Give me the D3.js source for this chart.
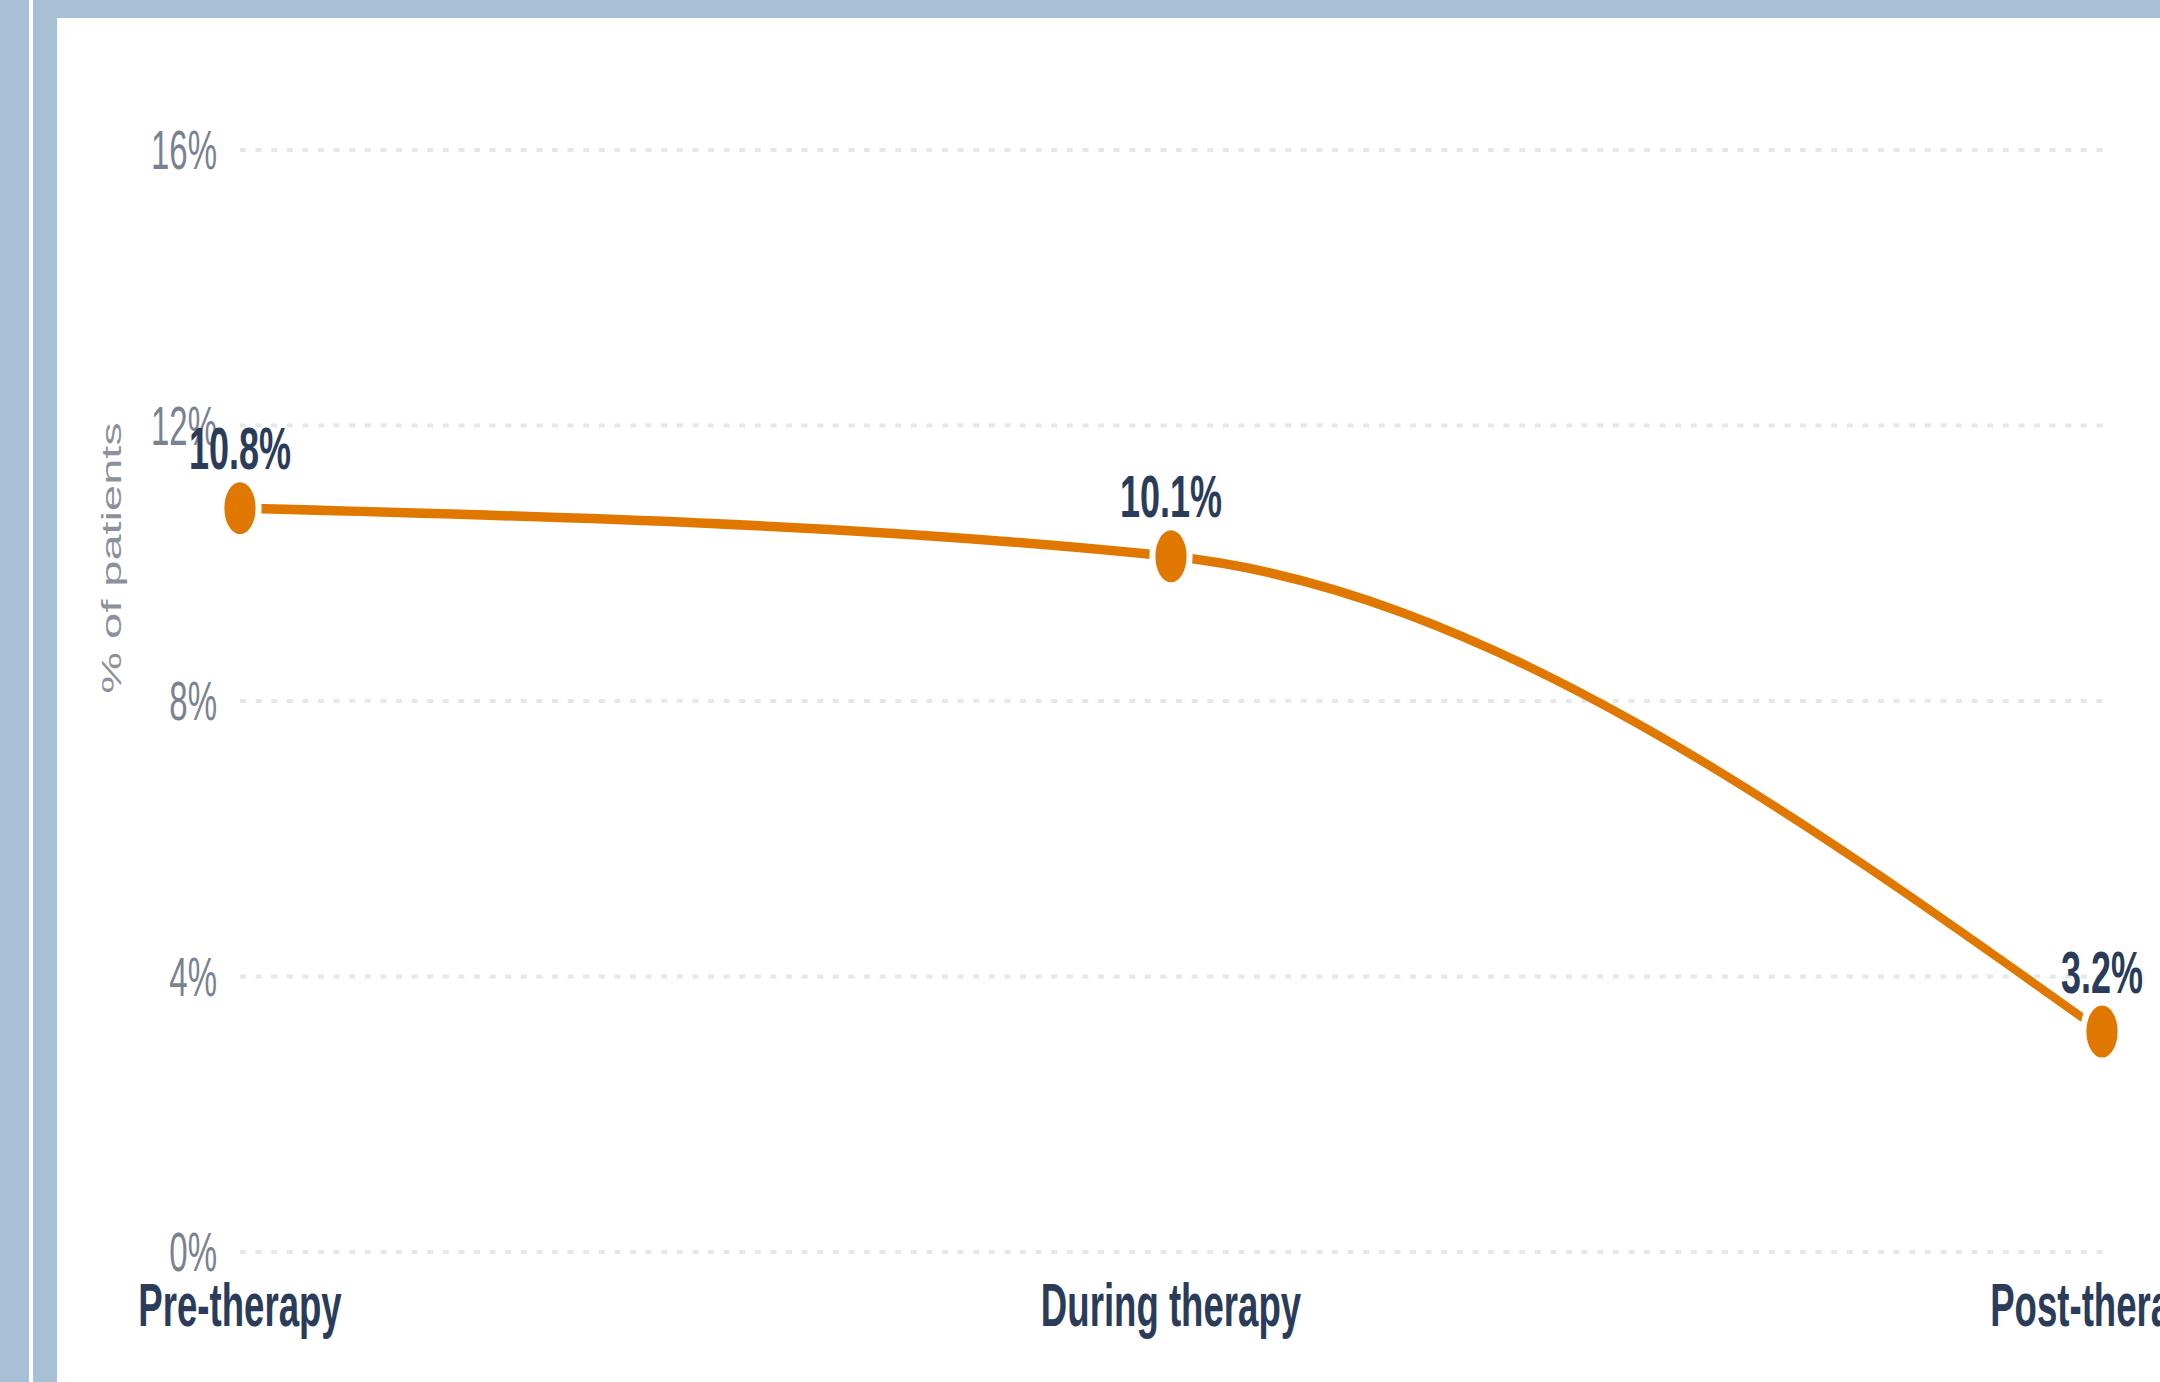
<!DOCTYPE html>
<html>
<head>
<meta charset="utf-8">
<script src="https://cdn.jsdelivr.net/npm/d3@7"></script>
<style>
  body { margin: 0; background: #a7c0d6; }
  svg { display: block; }
</style>
</head>
<body>
<div id="chart"></div>
<script>
// chart data
const stages = ["Pre-therapy", "During therapy", "Post-therapy"];
const values = [10.8, 10.1, 3.2];
const yTicks = [0, 4, 8, 12, 16];

const width = 2160, height = 1382;
// the source picture is squeezed sideways, so everything is drawn in a narrowed group
const sx = 0.6;

const svg = d3.select("#chart")
    .append("svg")
    .attr("width", width)
    .attr("height", height);

// frame: blue strips round a white panel
svg.append("rect").attr("width", width).attr("height", height).attr("fill", "#a7c0d6");
svg.append("rect").attr("x", 29).attr("y", 0).attr("width", 4).attr("height", height).attr("fill", "#ffffff");
svg.append("rect").attr("x", 57).attr("y", 18).attr("width", width - 57).attr("height", height - 18).attr("fill", "#ffffff");

const g = svg.append("g").attr("transform", `scale(${sx},1)`);

// scales (x range is in the narrowed units)
const xScale = d3.scalePoint().domain(stages).range([240 / sx, 2102 / sx]);
const yScale = d3.scaleLinear().domain([0, 16]).range([1252, 150]);

// dotted grid lines
g.selectAll(".grid")
    .data(yTicks)
    .enter()
    .append("line")
    .attr("x1", xScale.range()[0])
    .attr("x2", xScale.range()[1] + 2)
    .attr("y1", d => yScale(d))
    .attr("y2", d => yScale(d))
    .attr("stroke", "#e5e7ec")
    .attr("stroke-width", 4)
    .attr("stroke-dasharray", "10 16");

// y tick labels
g.selectAll(".ytick")
    .data(yTicks)
    .enter()
    .append("text")
    .attr("x", 217 / sx)
    .attr("y", d => yScale(d))
    .attr("dy", "0.35em")
    .attr("text-anchor", "end")
    .attr("font-family", "'Liberation Sans', Arial, sans-serif")
    .attr("font-size", 55)
    .attr("fill", "#7a8291")
    .text(d => d + "%");

// y axis title
g.append("text")
    .attr("transform", `translate(${121 / sx},558) rotate(-90)`)
    .attr("text-anchor", "middle")
    .attr("font-family", "'Liberation Sans', Arial, sans-serif")
    .attr("font-size", 47)
    .attr("fill", "#8c929c")
    .text("% of patients");

// x category labels
g.selectAll(".xlabel")
    .data(stages)
    .enter()
    .append("text")
    .attr("x", d => xScale(d))
    .attr("y", 1326)
    .attr("text-anchor", "middle")
    .attr("font-family", "'Liberation Sans', Arial, sans-serif")
    .attr("font-weight", "bold")
    .attr("font-size", 61)
    .attr("fill", "#2a3c5a")
    .text(d => d);

// the line
const line = d3.line()
    .x((d, i) => xScale(stages[i]))
    .y(d => yScale(d))
    .curve(d3.curveMonotoneX);

g.append("path")
    .datum(values)
    .attr("fill", "none")
    .attr("stroke", "#e07800")
    .attr("stroke-width", 9.5)
    .attr("d", line);

// markers
g.selectAll(".dot")
    .data(values)
    .enter()
    .append("circle")
    .attr("cx", (d, i) => xScale(stages[i]))
    .attr("cy", d => yScale(d))
    .attr("r", 31)
    .attr("fill", "#e07800")
    .attr("stroke", "#ffffff")
    .attr("stroke-width", 10);

// value labels
g.selectAll(".vlabel")
    .data(values)
    .enter()
    .append("text")
    .attr("x", (d, i) => xScale(stages[i]))
    .attr("y", d => yScale(d) - 39)
    .attr("text-anchor", "middle")
    .attr("font-family", "'Liberation Sans', Arial, sans-serif")
    .attr("font-weight", "bold")
    .attr("font-size", 60)
    .attr("fill", "#2a3c5a")
    .text(d => d.toFixed(1) + "%");
</script>
</body>
</html>
